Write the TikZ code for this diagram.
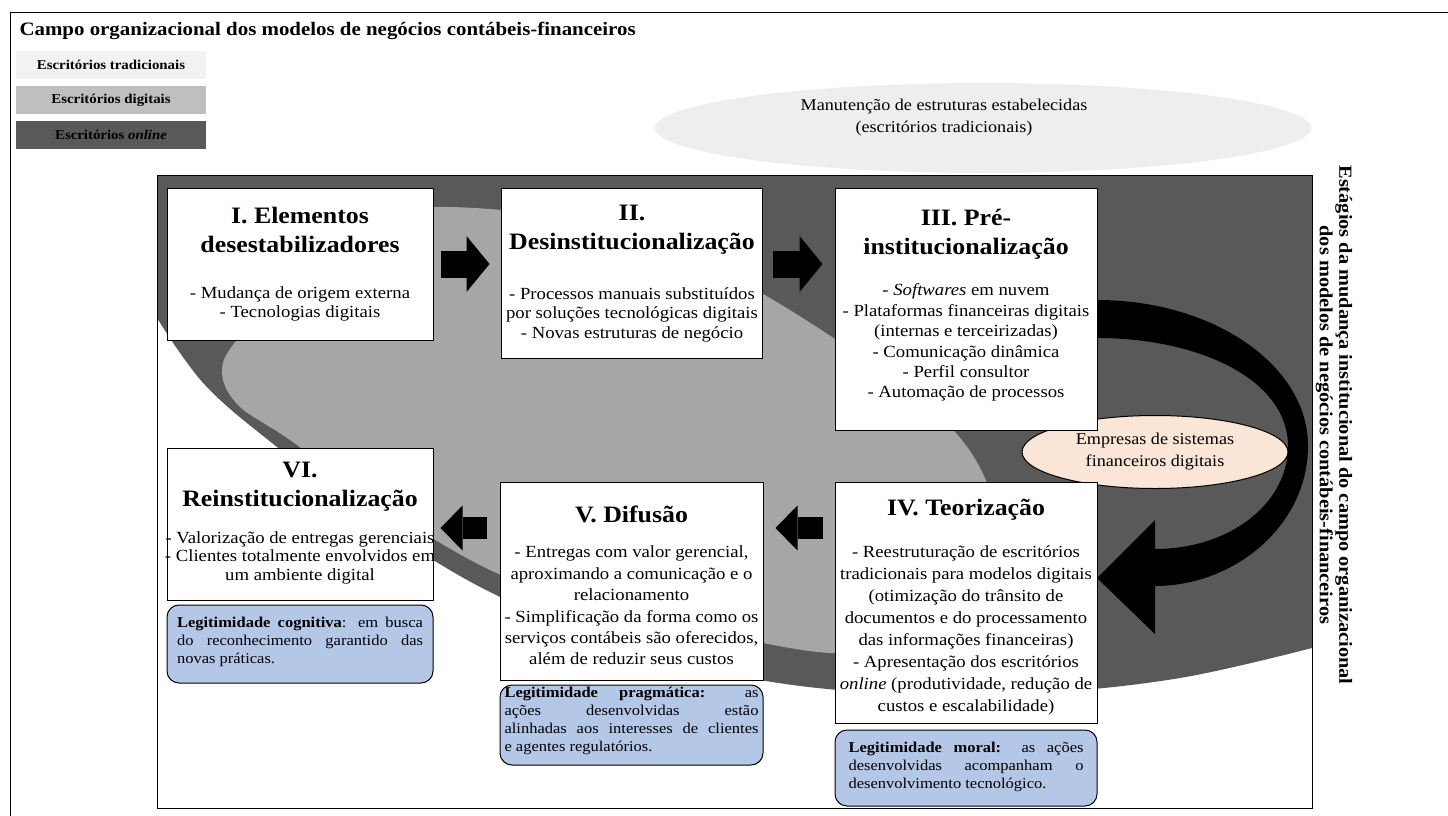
\documentclass[tikz,border=0pt]{standalone}
\usepackage{fontspec}
\setmainfont[FakeStretch=1.1]{Liberation Serif}
\usetikzlibrary{arrows.meta,shapes.geometric}

\definecolor{onlinegray}{HTML}{595959}
\definecolor{digitalgray}{HTML}{A6A6A6}
\definecolor{legenddigital}{HTML}{BFBFBF}
\definecolor{tradgray}{HTML}{F2F2F2}
\definecolor{keepgray}{HTML}{EEEEEE}
\definecolor{legitblue}{HTML}{B4C7E7}
\definecolor{firmpeach}{HTML}{FBE5D6}

\tolerance=10000
\hbadness=10000
\hyphenpenalty=10000

\newcommand{\stagetitle}{\fontsize{23.5}{29}\selectfont\bfseries}
\newcommand{\stagebody}[1][20.5]{\fontsize{17}{#1}\selectfont}
\newcommand{\stagetext}[6]{\parbox[c][#1][t]{#2}{\centering
  {\stagetitle\rule{0pt}{#3}#4\par}\vspace{#5}#6\par}}
\newcommand{\legittext}[4]{\parbox[c][#1][t]{#2}{\fontsize{15}{18}\selectfont
  \rule{0pt}{#3}#4\par}}

\tikzset{
  stagebox/.style={draw, fill=white, line width=1pt, inner sep=0pt},
  legitbox/.style={draw, fill=legitblue, line width=1pt, rounded corners=12pt, inner sep=0pt},
  legendbox/.style={minimum width=190pt, minimum height=28pt, inner sep=0pt,
    font=\fontsize{13.5}{16}\selectfont\bfseries},
  bigarrow/.style={line width=27pt, -{Triangle[length=23pt, width=56pt, line width=0pt]}},
  smallarrow/.style={line width=22pt, -{Triangle[length=22pt, width=45pt, line width=0pt]}}
}

\begin{document}
\begin{tikzpicture}[x=1pt, y=-1pt]
\useasboundingbox (0,0) rectangle (1448,816);

% outer frame
\draw[line width=1pt] (10,816) -- (10,13) -- (1448,13);

\node[anchor=base west, font=\fontsize{19}{22}\selectfont\bfseries] (title) at (16,36)
  {Campo organizacional dos modelos de negócios contábeis-financeiros};

% legend
\node[legendbox, fill=tradgray] (lgtrad) at (111,65) {Escritórios tradicionais};
\node[legendbox, fill=legenddigital] (lgdig) at (111,100) {Escritórios digitais};
\node[legendbox, fill=onlinegray] (lgonl) at (111,135) {Escritórios \textit{online}};

\fill[keepgray] (983,128) ellipse[x radius=328, y radius=45];
\node[align=center, font=\fontsize{16.5}{22}\selectfont] (keep) at (944,118)
  {Manutenção de estruturas estabelecidas\\(escritórios tradicionais)};

% field: online and digital offices
\begin{scope}
  \clip (157,175) rectangle (1312,808);
  \fill[onlinegray] (157,175) -- plot[smooth, tension=0.6] coordinates {(157,318) (205,385) (277,447)
    (380,525) (490,592) (620,645) (760,680) (900,694) (1040,693) (1180,678) (1312,648)}
    -- (1312,175) -- cycle;
  \fill[digitalgray] plot[smooth cycle, tension=0.6] coordinates {(440,207) (560,218) (680,252)
    (770,298) (880,370) (955,432) (990,490) (1000,545) (975,605) (900,640) (830,653) (700,630)
    (590,605) (490,570) (380,505) (290,440) (238,405) (222,370) (240,335) (300,260) (380,220)};
\end{scope}
\draw[line width=1pt] (157,175) rectangle (1312,808);

% curved arrow III -> IV
\fill (1097,300) .. controls (1213,300) and (1308,365) .. (1308,446)
  .. controls (1308,525) and (1235,586) .. (1155,586)
  -- (1155,634) -- (1097,578) -- (1155,520) -- (1155,549)
  .. controls (1228,549) and (1288,505) .. (1288,446)
  .. controls (1288,380) and (1200,338) .. (1097,338) -- cycle;

\node[ellipse, draw, fill=firmpeach, line width=1pt, minimum width=266pt, minimum height=73pt,
  inner sep=0pt, align=center, font=\fontsize{16.5}{22}\selectfont] (firms) at (1155,452)
  {Empresas de sistemas\\financeiros digitais};

% stages
\node[stagebox] (s1) at (300,264) {\stagetext{152pt}{266pt}{35pt}{I. Elementos\\desestabilizadores}{27pt}
  {\stagebody[19]- Mudança de origem externa\\- Tecnologias digitais}};
\node[stagebox] (s2) at (632,273) {\stagetext{170pt}{261pt}{32pt}{II.\\Desinstitucionalização}{30.5pt}
  {\stagebody[19.5]- Processos manuais substituídos\\por soluções tecnológicas digitais\\- Novas estruturas de negócio}};
\node[stagebox] (s3) at (966,309) {\stagetext{242pt}{262pt}{37pt}{III. Pré-\\institucionalização}{21.5pt}
  {\stagebody[20.4]- \textit{Softwares} em nuvem\\- Plataformas financeiras digitais\\(internas e terceirizadas)\\- Comunicação dinâmica\\- Perfil consultor\\- Automação de processos}};
\node[stagebox] (s4) at (966,602.5) {\stagetext{241pt}{262pt}{33pt}{IV. Teorização}{21pt}
  {\stagebody[21.9]- Reestruturação de escritórios\\tradicionais para modelos digitais\\(otimização do trânsito de\\documentos e do processamento\\das informações financeiras)\\- Apresentação dos escritórios\\\textit{online} (produtividade, redução de\\custos e escalabilidade)}};
\node[stagebox] (s5) at (631.5,581) {\stagetext{198pt}{263pt}{40pt}{V. Difusão}{14.5pt}
  {\stagebody[21.4]- Entregas com valor gerencial,\\aproximando a comunicação e o\\relacionamento\\- Simplificação da forma como os\\serviços contábeis são oferecidos,\\além de reduzir seus custos}};
\node[stagebox] (s6) at (300,524) {\stagetext{152pt}{266pt}{29pt}{VI.\\Reinstitucionalização}{18.5pt}
  {\stagebody[18.5]\makebox[\linewidth]{- Valorização de entregas gerenciais}\\\makebox[\linewidth]{- Clientes totalmente envolvidos em}\\um ambiente digital}};

% legitimacy
\node[legitbox, minimum width=266pt] (lcog) at (300,644) {\legittext{78pt}{246pt}{22pt}
  {\textbf{Legitimidade cognitiva}: em busca\linebreak do reconhecimento garantido das\linebreak novas práticas.}};
\node[legitbox, minimum width=263pt] (lprag) at (631.5,725) {\legittext{80pt}{254pt}{12pt}
  {\textbf{Legitimidade pragmática:} as\linebreak ações desenvolvidas estão\linebreak alinhadas aos interesses de clientes\linebreak e agentes regulatórios.}};
\node[legitbox, minimum width=262pt] (lmor) at (966,768) {\legittext{76pt}{235pt}{22pt}
  {\textbf{Legitimidade moral:} as ações\linebreak desenvolvidas acompanham o\linebreak desenvolvimento tecnológico.}};

% arrows between stages
\draw[bigarrow, shorten <=7pt, shorten >=11.5pt] (s1.east) -- (s1.east -| s2.west);
\draw[bigarrow, shorten <=10pt, shorten >=12pt] (s2.east |- s1.east) -- (s3.west |- s1.east);
\coordinate (lowrow) at ([yshift=-4pt]s6.east);
\draw[smallarrow, shorten <=13pt, shorten >=7pt] (lowrow -| s5.west) -- (lowrow);
\draw[smallarrow, shorten <=12pt, shorten >=12pt] (lowrow -| s4.west) -- (lowrow -| s5.east);

\node[rotate=-90, align=center, font=\fontsize{18.5}{19.5}\selectfont\bfseries] (stages) at (1334,425)
  {Estágios da mudança institucional do campo organizacional\\dos modelos de negócios contábeis-financeiros};

\end{tikzpicture}
\end{document}
